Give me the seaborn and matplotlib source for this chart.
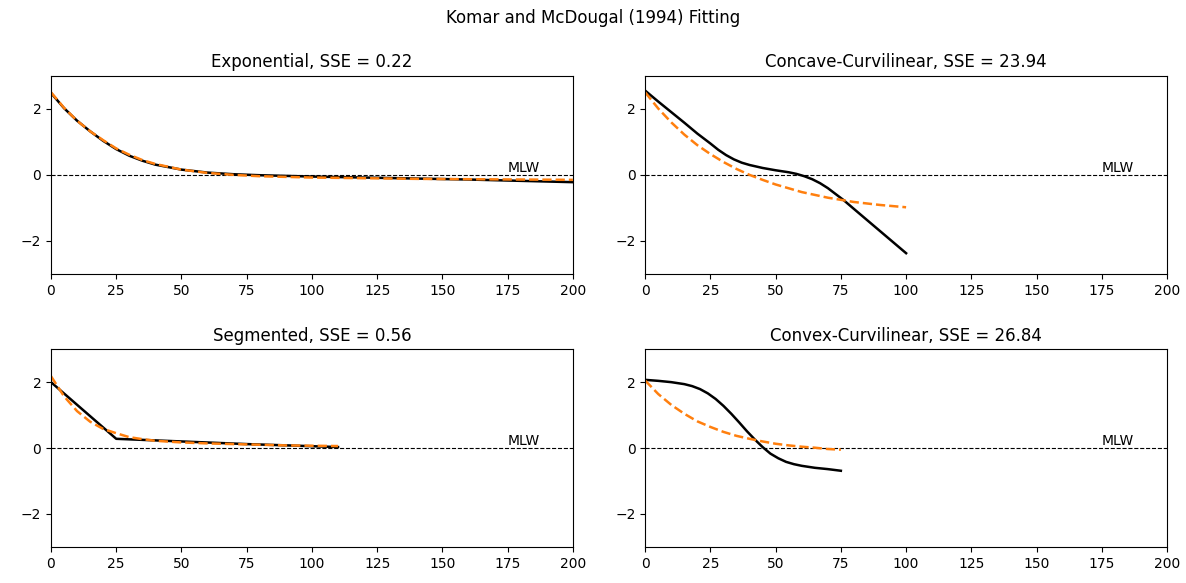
import matplotlib
matplotlib.use("Agg")
import matplotlib.pyplot as plt
import seaborn as sns
import pandas as pd

# Panel 1: Exponential
exp_x = [0, 5, 10, 15, 20, 25, 30, 35, 40, 50, 60, 70, 80, 90, 100, 120, 140, 160, 180, 200]
exp_profile = [2.48, 2.02, 1.64, 1.32, 1.03, 0.78, 0.58, 0.43, 0.31, 0.16, 0.07, 0.02, -0.01, -0.03,
               -0.05, -0.08, -0.11, -0.14, -0.18, -0.22]
exp_fit = [2.50, 2.03, 1.64, 1.32, 1.05, 0.80, 0.61, 0.45, 0.33, 0.16, 0.06, 0.00, -0.04, -0.06,
           -0.08, -0.10, -0.12, -0.13, -0.14, -0.15]

# Panel 2: Concave-Curvilinear
cc_x = [0, 5, 10, 15, 20, 25, 28, 31, 34, 37, 40, 45, 50, 55, 58, 61, 64, 67, 70, 73, 76, 80, 90, 100]
cc_profile = [2.55, 2.22, 1.90, 1.58, 1.25, 0.95, 0.76, 0.60, 0.47, 0.37, 0.30, 0.21, 0.14, 0.08,
              0.03, -0.04, -0.13, -0.25, -0.40, -0.58, -0.76, -1.03, -1.70, -2.37]
ccf_x = [0, 5, 10, 15, 20, 25, 30, 35, 40, 45, 50, 60, 70, 80, 90, 100]
cc_fit = [2.50, 2.01, 1.59, 1.22, 0.90, 0.63, 0.39, 0.18, 0.00, -0.15, -0.29, -0.52, -0.69, -0.82,
          -0.91, -0.98]

# Panel 3: Segmented
seg_x = [0, 25, 50, 75, 110]
seg_profile = [2.00, 0.28, 0.20, 0.12, 0.03]
segf_x = [0, 5, 10, 15, 20, 25, 30, 35, 40, 50, 60, 70, 80, 90, 100, 110]
seg_fit = [2.18, 1.57, 1.12, 0.80, 0.58, 0.45, 0.33, 0.27, 0.22, 0.17, 0.14, 0.12, 0.10, 0.08, 0.07, 0.06]

# Panel 4: Convex-Curvilinear
cv_x = [0, 5, 10, 15, 18, 21, 24, 27, 30, 33, 36, 39, 42, 45, 48, 51, 54, 57, 60, 65, 70, 75]
cv_profile = [2.07, 2.04, 2.00, 1.94, 1.88, 1.79, 1.66, 1.49, 1.28, 1.04, 0.78, 0.51, 0.26, 0.03,
              -0.17, -0.31, -0.42, -0.49, -0.54, -0.60, -0.64, -0.69]
cvf_x = [0, 5, 10, 15, 20, 25, 30, 35, 40, 45, 50, 55, 60, 65, 70, 75]
cv_fit = [2.05, 1.64, 1.31, 1.04, 0.81, 0.64, 0.49, 0.37, 0.28, 0.20, 0.13, 0.08, 0.04, 0.01, -0.03, -0.05]

titles = ["Exponential, SSE = 0.22", "Concave-Curvilinear, SSE = 23.94",
          "Segmented, SSE = 0.56", "Convex-Curvilinear, SSE = 26.84"]
panels = [
    (exp_x, exp_profile, exp_x, exp_fit),
    (cc_x, cc_profile, ccf_x, cc_fit),
    (seg_x, seg_profile, segf_x, seg_fit),
    (cv_x, cv_profile, cvf_x, cv_fit),
]

fig = plt.figure(figsize=(11.86, 5.83), dpi=100)
positions = [
    [0.043, 0.530, 0.440, 0.340],
    [0.544, 0.530, 0.440, 0.340],
    [0.043, 0.062, 0.440, 0.339],
    [0.544, 0.062, 0.440, 0.339],
]

for pos, (px, py, fx, fy), title in zip(positions, panels, titles):
    ax = fig.add_axes(pos)
    ax.axhline(0, color="black", linestyle="--", linewidth=0.8)
    sns.lineplot(data=pd.DataFrame({"x": px, "y": py}), x="x", y="y", ax=ax,
                 color="black", linewidth=1.8, sort=False)
    sns.lineplot(data=pd.DataFrame({"x": fx, "y": fy}), x="x", y="y", ax=ax,
                 color="#ff7f0e", linewidth=1.8, linestyle="--", sort=False)
    ax.text(175, 0.1, "MLW", fontsize=10)
    ax.set_xlim(0, 200)
    ax.set_ylim(-3, 3)
    ax.set_xticks([0, 25, 50, 75, 100, 125, 150, 175, 200])
    ax.set_yticks([-2, 0, 2])
    ax.set_xlabel("")
    ax.set_ylabel("")
    ax.set_title(title, fontsize=12)

fig.suptitle("Komar and McDougal (1994) Fitting", fontsize=12, y=0.985)
fig.savefig("out.png", dpi=100)
